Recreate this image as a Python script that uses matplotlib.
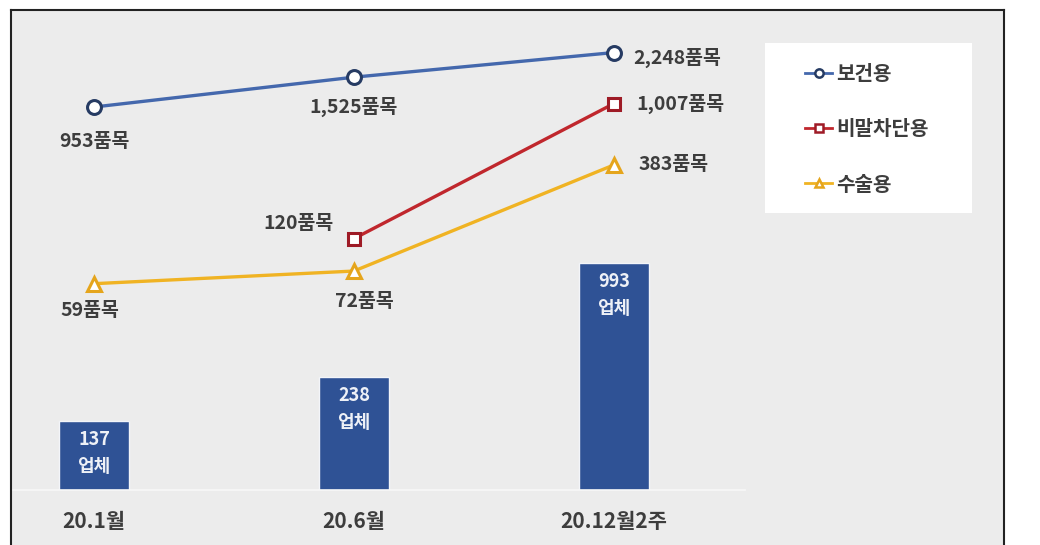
import numpy as np
import matplotlib
matplotlib.use('Agg')
import matplotlib.pyplot as plt
from matplotlib.lines import Line2D
from matplotlib.patches import Rectangle

plt.rcParams['font.family'] = ['Noto Sans CJK KR', 'DejaVu Sans']

# data
periods = ['20.1월', '20.6월', '20.12월2주']
companies = [137, 238, 993]          # 업체 수 (bars)
health = [953, 1525, 2248]           # 보건용
droplet = [np.nan, 120, 1007]        # 비말차단용 (no data at 20.1)
surgical = [59, 72, 383]             # 수술용
series_names = ['보건용', '비말차단용', '수술용']

W, H = 1040, 545
fig = plt.figure(figsize=(W / 100, H / 100), dpi=100)
fig.patch.set_facecolor('white')


def fx(px):
    return px / W


def fy(py):
    return 1 - py / H


# gray panel with black frame on left / top / right
fig.patches.append(Rectangle((fx(11), 0), fx(1004) - fx(11), fy(10), transform=fig.transFigure,
                             facecolor='#ececec', edgecolor='none', zorder=-10))
for xs, ys in [([11, 11], [545, 10]), ([11, 1004], [10, 10]), ([1004, 1004], [10, 545])]:
    fig.add_artist(Line2D([fx(v) for v in xs], [fy(v) for v in ys], color='#222222', lw=1.5))

text_color = '#3d3d3d'
x = np.arange(len(periods))

# bars (company counts)
ax = fig.add_axes([fx(11), fy(490), fx(745) - fx(11), fy(12) - fy(490)])
ax.set_facecolor('none')
ax.set_yscale('log')
ax.bar(x, companies, width=0.27, color='#2f5295', edgecolor='#f3f5f9', linewidth=1, zorder=2)
ax.set_ylim(57.7, 23000)
ax.set_xlim(-0.319, 2.504)
for xi, n in zip(x, companies):
    ax.annotate(f'{n}\n업체', (xi, n), xytext=(0, -9), textcoords='offset pixels',
                ha='center', va='top', color='#eef1f7', fontsize=13, fontweight='bold',
                linespacing=1.55, zorder=3)

for s in ['top', 'left', 'right']:
    ax.spines[s].set_visible(False)
ax.spines['bottom'].set_color('#f8f8f8')
ax.spines['bottom'].set_linewidth(1.2)
ax.yaxis.set_visible(False)
ax.set_xticks(x, periods)
ax.tick_params(axis='x', length=0, pad=15, labelsize=15, labelcolor=text_color)
for lab in ax.get_xticklabels():
    lab.set_fontweight('bold')

# lines (product counts)
lx = ax.twinx()
lx.set_yscale('log')
lx.set_ylim(2.29, 4256)
lx.yaxis.set_visible(False)
for s in lx.spines.values():
    s.set_visible(False)

styles = [
    dict(color='#4468ad', marker='o', ms=10, mec='#263b63'),
    dict(color='#c0272d', marker='s', ms=9, mec='#9e1b26'),
    dict(color='#f0b323', marker='^', ms=10, mec='#e5a51c'),
]
handles = []
for vals, st in zip([health, droplet, surgical], styles):
    lx.plot(x, vals, lw=2.4, mfc='white', mew=2.2, zorder=4, **st)
    handles.append(Line2D([], [], lw=2, mfc='white', mew=1.8, color=st['color'],
                          marker=st['marker'], ms=6, mec=st['mec']))

# value labels: (series, index, offset in pixels, ha)
label_spec = [
    (health, 0, (0, -34), 'center'),
    (health, 1, (0, -30), 'center'),
    (health, 2, (19, -5), 'left'),
    (droplet, 1, (-55, 15), 'center'),
    (droplet, 2, (22, 0), 'left'),
    (surgical, 0, (-4, -27), 'center'),
    (surgical, 1, (10, -30), 'center'),
    (surgical, 2, (25, 0), 'left'),
]
for vals, i, off, ha in label_spec:
    lx.annotate(f'{vals[i]:,}품목', (x[i], vals[i]), xytext=off, textcoords='offset pixels',
                ha=ha, va='center', color=text_color, fontsize=14, fontweight='bold', zorder=5)

# legend on a white box
fig.patches.append(Rectangle((fx(765), fy(213)), fx(972) - fx(765), fy(43) - fy(213),
                             transform=fig.transFigure, facecolor='white', edgecolor='none', zorder=1))
fig.legend(handles, series_names, loc='upper left', bbox_to_anchor=(fx(797), fy(55)),
           frameon=False, handlelength=1.35, handletextpad=0.2, labelspacing=1.7,
           prop={'size': 14.5, 'weight': 'bold'}, labelcolor=text_color, borderaxespad=0)

fig.savefig('out.png', dpi=100)
